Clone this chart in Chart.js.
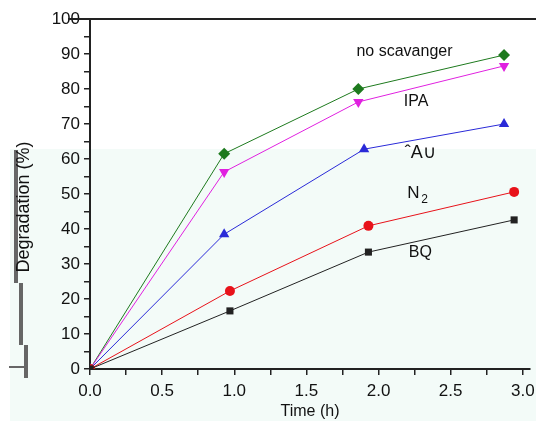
<!DOCTYPE html>
<html>
<head>
<meta charset="utf-8">
<script src="https://cdn.jsdelivr.net/npm/chart.js@4/dist/chart.umd.min.js"></script>
<style>
  html, body { margin: 0; padding: 0; background: #fff; }
  #wrap { width: 536px; height: 421px; }
</style>
</head>
<body>
<div id="wrap"><canvas id="chart" width="536" height="421"></canvas></div>
<script>
// time points (h)
const times = [0, 0.93, 1.86, 2.87]
const timesB = [0, 0.93, 1.90, 2.87]
const timesN = [0, 0.97, 1.93, 2.94]

const noScav = [0, 61.5, 80, 89.7]
const ipa = [0, 56.3, 76.3, 86.6]
const ao = [0, 38.5, 62.8, 70]
const n2 = [0, 22.3, 40.9, 50.6]
const bq = [0, 16.6, 33.4, 42.6]

const labelNames = ['no scavanger', 'IPA', 'ˆA∪', 'N', 'BQ']
const labelX = [2.18, 2.26, 2.29, 2.27, 2.29]
const labelY = [90.6, 76.3, 61.7, 50.3, 33.4]

const font = '"Liberation Sans", Arial, sans-serif'
const pts = (xs, ys) => xs.map((x, i) => ({ x: x, y: ys[i] }))

function series(label, xs, ys, color, style, rot, r) {
    return {
        label: label,
        data: pts(xs, ys),
        borderColor: color,
        backgroundColor: color,
        borderWidth: 1,
        pointStyle: style,
        pointRotation: rot,
        pointRadius: r,
        pointBorderWidth: 0,
        tension: 0
    }
}

const decor = {
    id: 'decor',
    beforeDraw(chart) {
        const c = chart.ctx
        c.save()
        c.fillStyle = '#f3fbf8'
        c.fillRect(10, 149, 526, 272)
        c.fillStyle = '#666'
        c.fillRect(14, 150, 4, 133)
        c.fillRect(19, 283, 4, 62)
        c.fillRect(24, 345, 4, 33)
        c.fillRect(9, 366, 16, 2)
        c.restore()
    },
    afterDraw(chart) {
        const c = chart.ctx
        const a = chart.chartArea
        const xs = chart.scales.x, ys = chart.scales.y
        c.save()
        c.strokeStyle = '#222'
        c.lineWidth = 2
        c.beginPath()
        c.moveTo(a.left - 22, a.top)
        c.lineTo(536, a.top)
        c.stroke()

        // y axis title
        c.fillStyle = '#111'
        c.textAlign = 'center'
        c.textBaseline = 'middle'
        c.save()
        c.translate(24, 207)
        c.rotate(-Math.PI / 2)
        c.font = '18px ' + font
        c.fillText('Degradation (%)', 0, 0)
        c.restore()

        labelNames.forEach((t, i) => {
            const px = xs.getPixelForValue(labelX[i])
            const py = ys.getPixelForValue(labelY[i])
            if (t === 'N') {
                c.font = '17px ' + font
                c.fillText('N', px - 4, py)
                c.font = '12px ' + font
                c.fillText('2', px + 7, py + 7)
            } else {
                c.font = (i === 2 ? '18px ' : '16px ') + font
                c.fillText(t, px, py)
            }
        })
        c.restore()
    }
}

const tickFont = { family: font, size: 17 }

new Chart(document.getElementById('chart'), {
    type: 'line',
    data: {
        datasets: [
            series('BQ', timesN, bq, '#222222', 'rect', 0, 5),
            series('N2', timesN, n2, '#e8121a', 'circle', 0, 5),
            series('AO', timesB, ao, '#2a2ad8', 'triangle', 0, 6),
            series('IPA', times, ipa, '#e020e0', 'triangle', 180, 6),
            series('no scavanger', times, noScav, '#1e7a1e', 'rectRot', 0, 6)
        ]
    },
    options: {
        responsive: false,
        animation: false,
        layout: { padding: { top: 19, right: 0, left: 0, bottom: 0 } },
        plugins: { legend: { display: false }, tooltip: { enabled: false } },
        scales: {
            x: {
                type: 'linear',
                min: 0,
                max: 3.05,
                afterBuildTicks: s => { s.ticks = s.ticks.filter(t => t.value <= 3.0001) },
                afterFit: s => { s.height = 52; s.paddingRight = 0 },
                ticks: {
                    stepSize: 0.25,
                    includeBounds: false,
                    color: '#111',
                    font: tickFont,
                    padding: 6,
                    maxRotation: 0,
                    autoSkip: false,
                    callback: v => (Math.abs(v * 2 - Math.round(v * 2)) < 1e-6 ? v.toFixed(1) : '')
                },
                grid: { drawOnChartArea: false, tickLength: 6, color: '#222', lineWidth: 1.5 },
                border: { color: '#222', width: 2 },
                title: { display: true, text: 'Time (h)', color: '#111', font: { family: font, size: 16 }, padding: { top: 0, bottom: 0 } }
            },
            y: {
                min: 0,
                max: 100,
                afterFit: s => { s.width = 90 },
                ticks: {
                    stepSize: 5,
                    color: '#111',
                    font: tickFont,
                    padding: 4,
                    autoSkip: false,
                    callback: v => (v % 10 === 0 ? v : '')
                },
                grid: { drawOnChartArea: false, tickLength: 6, color: '#222', lineWidth: 1.5 },
                border: { color: '#222', width: 2 },
                title: { display: false }
            }
        }
    },
    plugins: [decor]
})
</script>
</body>
</html>
